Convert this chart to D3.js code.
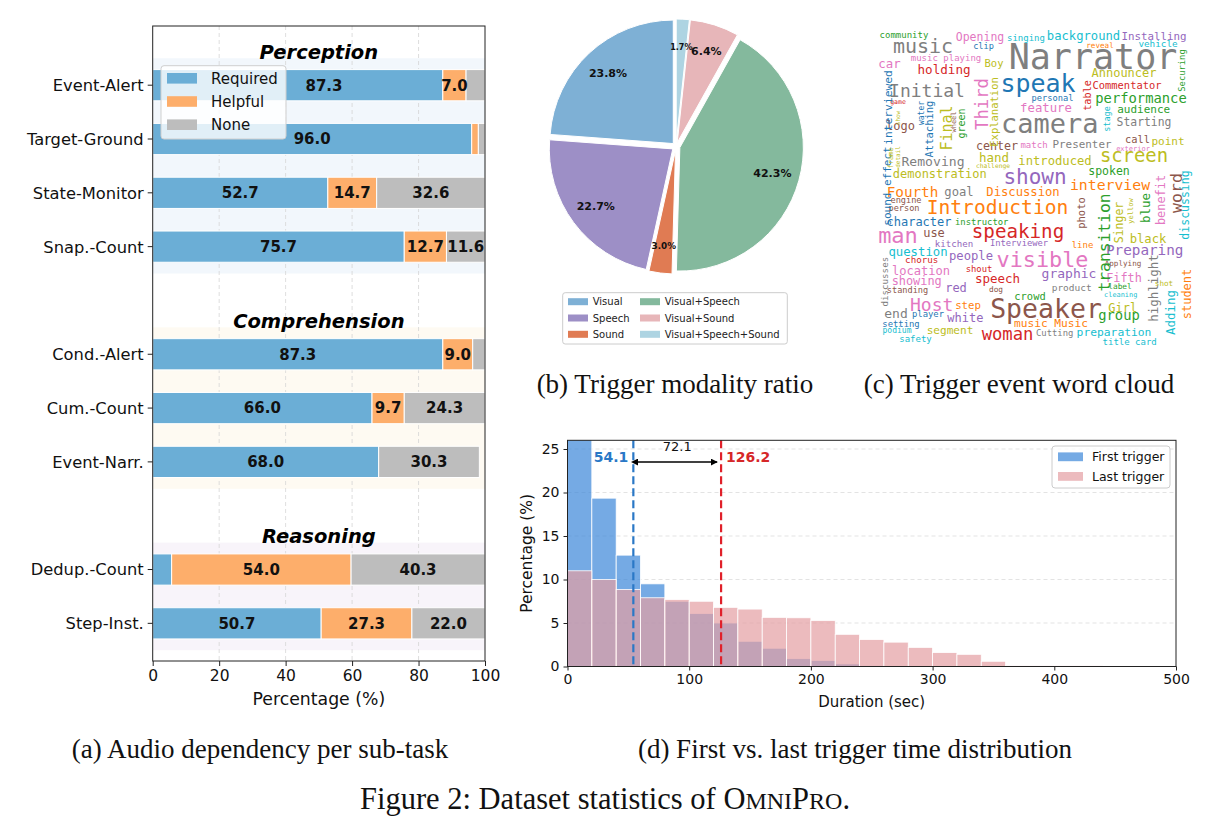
<!DOCTYPE html>
<html><head><meta charset="utf-8">
<script src="https://cdn.jsdelivr.net/npm/d3@7"></script>
<style>
body{margin:0;background:#fff}
svg{display:block}
svg{font-family:"DejaVu Sans",sans-serif}
</style></head>
<body><svg id="fig" width="1209" height="834"></svg>
<script>
// ================= DATA =================
// (a) Audio dependency per sub-task
const subtasks = ["Event-Alert","Target-Ground","State-Monitor","Snap.-Count","Cond.-Alert","Cum.-Count","Event-Narr.","Dedup.-Count","Step-Inst."];
const taskGroups = ["Perception","Comprehension","Reasoning"];
const taskGroupOf = [0,0,0,0,1,1,1,2,2];
const dependencyLevels = ["Required","Helpful","None"];
const requiredPct = [87.3,96.0,52.7,75.7,87.3,66.0,68.0,5.7,50.7];
const helpfulPct  = [7.0,2.0,14.7,12.7,9.0,9.7,0.0,54.0,27.3];
const nonePct     = [5.7,2.0,32.6,11.6,3.7,24.3,30.3,40.3,22.0];
const pctTicks = [0,20,40,60,80,100];

// (b) Trigger modality ratio
const modalities = ["Visual","Speech","Sound","Visual+Speech","Visual+Sound","Visual+Speech+Sound"];
const modalityShare = [23.8,22.7,3.0,42.3,6.4,1.7];

// (c) Trigger event word cloud
const cloudWords = ["community","Opening","singing","background","Installing","music","clip","Narrator","reveal","vehicle","music playing","car","Boy","holding","speak","Announcer","Commentator","Initial","personal","performance","feature","audience","game","logo","camera","Starting","center","match","Presenter","call","point","exterior","Removing","hand","introduced","screen","challenge","demonstration","spoken","shown","interview","Fourth","goal","Discussion","engine","person","Introduction","character","instructor","man","use","speaking","kitchen","Interviewer","line","black","question","chorus","people","visible","Preparing","Applying","location","shout","graphic","Fifth","showing","red","speech","standing","dog","product","label","shot","cleaning","crowd","Speaker","Host","step","Girl","end","player","white","group","setting","segment","music Music","podium","woman","Cutting","preparation","title card","safety",
 "interviewed","sound effect","Securing","table","Third","Explanation","water","show","Attaching","wheel","green","Final","frame","detail","stage","word","discussing","benefit","photo","transition","Singer","yellow","blue","highlight","discusses","student","Adding"];
const cloudWeight = [9,11.5,9,12.2,10.8,20,8.6,35,7.6,9.3,9,12.4,10.5,12.6,25,12,10.4,18,8.7,13.8,12.3,11,6.5,12,27,11.4,11.7,9,10.9,10.4,11,7,13.1,12.5,12.2,18.9,6.3,12,11.5,21,14.8,14.3,12.2,12.2,8.6,8.6,19.6,12,8.9,22,12,19.2,9.1,8.8,9,12.2,12.3,9.2,12.2,21.8,14.3,7.6,12.1,8.9,13,11.8,11.9,12,12.5,8.6,7.8,9.5,7.8,7.6,6.9,10.4,26.5,18,10.7,12,13,8.9,12,13.8,8.9,11.1,11.2,8,17.2,8.9,11.3,9,9,
 11.3,11,8.8,10.2,17.2,10.5,8,6,10.5,7,10,15,7,6,8.5,16.5,11.5,11.9,10.5,16.3,11.5,7,12.5,12.5,9.2,12,12.5];
const cloudHue = ["green","pink","cyan","cyan","purple","gray","blue","gray","orange","cyan","pink","pink","olive","red","blue","olive","red","gray","blue","green","pink","green","red","brown","gray","gray","brown","pink","gray","brown","olive","pink","gray","olive","olive","olive","olive","olive","green","purple","orange","orange","gray","orange","brown","brown","orange","blue","green","pink","brown","red","purple","purple","orange","olive","cyan","red","purple","pink","purple","brown","pink","red","purple","pink","pink","purple","red","brown","brown","gray","green","olive","cyan","green","brown","pink","orange","olive","gray","blue","purple","green","blue","olive","orange","cyan","red","gray","cyan","cyan","cyan",
 "blue","blue","green","red","pink","olive","blue","olive","blue","brown","green","olive","olive","olive","cyan","brown","cyan","pink","brown","green","olive","olive","green","gray","gray","orange","cyan"];
// placement of each word in the cloud image (u, v in cloud pixels; vertical flag)
const cloudPlacement = [[29,13,0],[105,16,0],[151,15.5,0],[208.5,14.5,0],[279,14.5,0],[48,28.3,0],[108.5,23.7,0],[218,44,0],[225,23,0],[283,22.3,0],[71,35.7,0],[14.5,43.3,0],[119,41.7,0],[69,49.3,0],[163,66.5,0],[249,52.3,0],[252,64.3,0],[52,72.3,0],[177.5,76,0],[266,78.3,0],[171,86.7,0],[268.7,87.7,0],[23,79,0],[25.5,105,0],[174.7,107.5,0],[269,101,0],[122,125,0],[159,123.3,0],[207,123.3,0],[262.5,118.3,0],[293,120,0],[258,125.7,0],[58,141,0],[119,136.7,0],[180,139.5,0],[259,136.7,0],[118,143.3,0],[64.7,152.7,0],[234,150,0],[160,159,0],[235,165,0],[37.5,171.7,0],[84,171,0],[148,171,0],[31,177.7,0],[29,185.7,0],[122.5,189,0],[44,201,0],[106.7,200,0],[23,218.3,0],[59,212.3,0],[143,213,0],[79,221.7,0],[144,221,0],[207.5,223.3,0],[273,218.3,0],[43,231,0],[46.7,238.3,0],[96,235,0],[167.5,242,0],[269.7,230,0],[248,241,0],[46,250,0],[104,246.7,0],[194,253,0],[249,256.7,0],[41.7,260,0],[81,266.7,0],[122.5,258.3,0],[32.5,268.3,0],[121,266.7,0],[196.7,265.7,0],[245,264.3,0],[289,261,0],[245.7,271.7,0],[155,275,0],[171,292.5,0],[56.7,285.7,0],[93,284.3,0],[247.7,286.7,0],[21,293.3,0],[53,292.3,0],[90.3,296.7,0],[244,295,0],[26,301.7,0],[75,309,0],[176,302,0],[22,308.3,0],[132.5,315,0],[179.7,311,0],[239,311,0],[254.7,320,0],[40.5,316.7,0],
 [12.7,82.5,1],[12,161,1],[307,45.5,1],[212,70.5,1],[106.7,79,1],[119.5,87,1],[46,88,1],[22.5,93,1],[54.5,104,1],[78,97,1],[86.5,98.5,1],[72,103,1],[15,133,1],[22.5,132,1],[232,94,1],[301.5,168,1],[310,180,1],[285.5,175,1],[206,188,1],[229.5,217.5,1],[243.5,197.5,1],[255.5,186,1],[270,183,1],[278,263,1],[10,256.7,1],[311.5,269,1],[295,287.5,1]];

// (d) First vs. last trigger time distribution (20 s bins starting at 0)
const binWidthSec = 20;
const firstTriggerPct = [32.6,19.35,12.8,9.5,7.5,6.1,5.0,2.9,2.1,0.9,0.7,0.3,0.1,0.05,0.05,0,0,0,0,0,0,0.05];
const lastTriggerPct  = [11.0,10.0,8.85,7.9,7.7,7.5,6.8,6.6,5.65,5.6,5.3,3.7,3.1,2.8,2.2,1.6,1.4,0.6,0.1,0.1,0.1,0.1,0.05];
const meanFirst = 54.1, meanLast = 126.2;
const durationTicks = [0,100,200,300,400,500];
const percentTicks = [0,5,10,15,20,25];

// ================= DRAW =================
const svg = d3.select("#fig");
svg.append("rect").attr("width",1209).attr("height",834).attr("fill","#fff");
const SANS = "'DejaVu Sans', sans-serif";

// ---------- (a) ----------
(function(){
  const L=152.7,R=485,T=26,B=661;
  const x = d3.scaleLinear().domain([0,100]).range([L,R]);
  const slot = subtasks.map((d,i)=>i+taskGroupOf[i]);
  const y = d3.scaleLinear().domain([-1.1,10.7]).range([T,B]);
  const step = y(1)-y(0), bh = 0.58*step;
  const colors = ["#6baed6","#fdae6b","#bdbdbd"];
  const bandFill = ["#f2f7fc","#fefaf2","#f8f4fa"];
  const legBox = {x:161,y:65.7,w:125,h:73.3};
  const g = svg.append("g");
  taskGroups.forEach((name,gi)=>{
    const s = slot.filter((v,i)=>taskGroupOf[i]===gi);
    const s0=d3.min(s), s1=d3.max(s);
    g.append("rect").attr("x",L).attr("width",R-L).attr("y",y(s0-0.5)).attr("height",y(s1+0.5)-y(s0-0.5)).attr("fill",bandFill[gi]);
  });
  pctTicks.slice(1,-1).forEach(t=>g.append("line").attr("x1",x(t)).attr("x2",x(t)).attr("y1",T).attr("y2",B)
     .attr("stroke","#d6d6d6").attr("stroke-width",0.8).attr("stroke-dasharray","4,3"));
  taskGroups.forEach((name,gi)=>{
    const s0 = d3.min(slot.filter((v,i)=>taskGroupOf[i]===gi));
    g.append("text").attr("x",(L+R)/2).attr("y",y(s0-0.62)).attr("dy","0.36em").attr("text-anchor","middle")
     .attr("font-size",19.5).attr("font-weight","bold").attr("font-style","italic").text(name);
  });
  const series = [requiredPct,helpfulPct,nonePct];
  const labels = [];
  subtasks.forEach((t,i)=>{
    let acc=0;
    series.forEach((arr,k)=>{
      const v=arr[i];
      if(v>0){
        g.append("rect").attr("x",x(acc)).attr("width",x(acc+v)-x(acc)).attr("y",y(slot[i])-bh/2).attr("height",bh)
         .attr("fill",colors[k]).attr("stroke","#fff").attr("stroke-width",1);
        if(v>6){
          let lx = x(acc+v/2);
          const ly = y(slot[i]);
          // keep label clear of the legend box
          if(ly>legBox.y && ly<legBox.y+legBox.h && lx-18<legBox.x+legBox.w) lx = legBox.x+legBox.w+38;
          labels.push([lx,ly,v.toFixed(1)]);
        }
      }
      acc+=v;
    });
  });
  // frame
  g.append("rect").attr("x",L).attr("y",T).attr("width",R-L).attr("height",B-T).attr("fill","none").attr("stroke","#222").attr("stroke-width",1);
  // y ticks
  subtasks.forEach((t,i)=>{
    g.append("line").attr("x1",L-5).attr("x2",L).attr("y1",y(slot[i])).attr("y2",y(slot[i])).attr("stroke","#222");
    g.append("text").attr("x",L-9).attr("y",y(slot[i])).attr("dy","0.36em").attr("text-anchor","end").attr("font-size",16.3).attr("fill","#111").text(t);
  });
  // x axis
  const xa = g.append("g").attr("transform",`translate(0,${B})`).call(d3.axisBottom(x).tickValues(pctTicks).tickSize(5).tickPadding(4).tickFormat(d3.format("d")));
  xa.select(".domain").remove();
  xa.selectAll("text").attr("font-size",15.5).style("font-family",SANS).attr("fill","#111");
  xa.selectAll("line").attr("stroke","#222");
  g.append("text").attr("x",(L+R)/2).attr("y",705).attr("text-anchor","middle").attr("font-size",17.3).attr("fill","#111").text("Percentage (%)");
  // legend
  const lg = g.append("g");
  lg.append("rect").attr("x",legBox.x).attr("y",legBox.y).attr("width",legBox.w).attr("height",legBox.h).attr("rx",3)
    .attr("fill","#fff").attr("fill-opacity",0.8).attr("stroke","#cfcfcf");
  dependencyLevels.forEach((lv,k)=>{
    const cy = 78.3 + k*23.2;
    lg.append("rect").attr("x",167).attr("y",cy-5.3).attr("width",30).attr("height",10.6).attr("fill",colors[k]);
    lg.append("text").attr("x",211).attr("y",cy).attr("dy","0.36em").attr("font-size",15).attr("fill","#111").text(lv);
  });
  labels.forEach(l=>g.append("text").attr("x",l[0]).attr("y",l[1]).attr("dy","0.36em").attr("text-anchor","middle")
          .attr("font-size",15).attr("font-weight","bold").attr("fill","#111").text(l[2]));
})();

// ---------- (b) ----------
(function(){
  const cx=676, cy=146.5, R=123.5, e=4;
  const colors = ["#7eb0d5","#9d8fc6","#e07b53","#84b99d","#e7b6b9","#aed4e2"];
  const pie = d3.pie().sort(null).value(d=>d).startAngle(0).endAngle(-2*Math.PI);
  const arcs = pie(modalityShare);
  const arc = d3.arc().innerRadius(0).outerRadius(R);
  const g = svg.append("g").attr("transform",`translate(${cx},${cy})`);
  arcs.forEach((a,i)=>{
    const mid=(a.startAngle+a.endAngle)/2;
    g.append("path").attr("d",arc(a)).attr("fill",colors[i]).attr("stroke","#fff").attr("stroke-width",1)
      .attr("transform",`translate(${e*Math.sin(mid)},${-e*Math.cos(mid)})`);
  });
  arcs.forEach((a,i)=>{
    const mid=(a.startAngle+a.endAngle)/2, r=100;
    const v = modalityShare[i];
    g.append("text").attr("x",r*Math.sin(mid)).attr("y",-r*Math.cos(mid)).attr("dy","0.36em").attr("text-anchor","middle")
      .attr("font-weight","bold").attr("font-size", v<2?8:(v<5?8.8:11)).attr("fill","#111").text(v.toFixed(1)+"%");
  });
  // legend
  const lg = svg.append("g");
  lg.append("rect").attr("x",562.7).attr("y",292.7).attr("width",224.6).attr("height",51.3).attr("rx",2.5)
    .attr("fill","#fff").attr("stroke","#cccccc");
  modalities.forEach((m,i)=>{
    const col=Math.floor(i/3), row=i%3;
    const px = col===0?568:640, ty = 301.7+row*16.3;
    lg.append("rect").attr("x",px).attr("y",ty-3.5).attr("width",20).attr("height",7).attr("fill",colors[i]);
    lg.append("text").attr("x",px+24.7).attr("y",ty).attr("dy","0.36em").attr("font-size",10).attr("fill","#222").text(m);
  });
})();

// ---------- (c) ----------
(function(){
  const hues = {blue:"#1f77b4",orange:"#ff7f0e",green:"#2ca02c",red:"#d62728",purple:"#9467bd",brown:"#8c564b",pink:"#e377c2",gray:"#7f7f7f",olive:"#bcbd22",cyan:"#17becf"};
  const cx = d3.scaleLinear().domain([0,315]).range([875,1190]);
  const cy = d3.scaleLinear().domain([0,322]).range([25,347]);
  const g = svg.append("g");
  cloudWords.forEach((w,i)=>{
    const [u,v,vert]=cloudPlacement[i];
    g.append("text").attr("transform",`translate(${cx(u)},${cy(v)}) rotate(${vert?-90:0})`)
      .attr("text-anchor","middle").style("font-family","'DejaVu Sans Mono', monospace").attr("font-size",cloudWeight[i])
      .attr("fill",hues[cloudHue[i]]).attr("dy", vert? "0.36em":null).text(w);
  });
})();

// ---------- (d) ----------
(function(){
  const L=567.5,R=1176,T=440.3,B=666.5;
  const x = d3.scaleLinear().domain([0,500]).range([L,R]);
  const y = d3.scaleLinear().domain([0,26]).range([B,T]);
  const g = svg.append("g");
  svg.append("clipPath").attr("id","clipd").append("rect").attr("x",L).attr("y",T).attr("width",R-L).attr("height",B-T);
  percentTicks.slice(1).forEach(t=>g.append("line").attr("x1",L).attr("x2",R).attr("y1",y(t)).attr("y2",y(t))
     .attr("stroke","#dcdcdc").attr("stroke-width",0.8).attr("stroke-dasharray","4,3"));
  const bars = g.append("g").attr("clip-path","url(#clipd)");
  firstTriggerPct.forEach((v,i)=>{ if(v<=0) return;
    bars.append("rect").attr("x",x(i*binWidthSec)).attr("width",x((i+1)*binWidthSec)-x(i*binWidthSec)).attr("y",y(v)).attr("height",B-y(v))
      .attr("fill","#3a86d8").attr("fill-opacity",0.7).attr("stroke","#fff").attr("stroke-width",0.8);
  });
  lastTriggerPct.forEach((v,i)=>{ if(v<=0) return;
    bars.append("rect").attr("x",x(i*binWidthSec)).attr("width",x((i+1)*binWidthSec)-x(i*binWidthSec)).attr("y",y(v)).attr("height",B-y(v))
      .attr("fill","#e49ea2").attr("fill-opacity",0.7).attr("stroke","#fff").attr("stroke-width",0.8);
  });
  // mean lines
  g.append("line").attr("x1",x(meanFirst)).attr("x2",x(meanFirst)).attr("y1",T).attr("y2",B).attr("stroke","#2a78c6").attr("stroke-width",2.2).attr("stroke-dasharray","8,4");
  g.append("line").attr("x1",x(meanLast)).attr("x2",x(meanLast)).attr("y1",T).attr("y2",B).attr("stroke","#e0202a").attr("stroke-width",2.2).attr("stroke-dasharray","8,4");
  g.append("text").attr("x",x(meanFirst)-5).attr("y",y(24.1)).attr("dy","0.36em").attr("text-anchor","end").attr("font-weight","bold").attr("font-size",14).attr("fill","#2a78c6").text(meanFirst.toFixed(1));
  g.append("text").attr("x",x(meanLast)+5).attr("y",y(24.1)).attr("dy","0.36em").attr("text-anchor","start").attr("font-weight","bold").attr("font-size",14).attr("fill","#d62728").text(meanLast.toFixed(1));
  // arrow
  const defs = svg.append("defs");
  ["s","e"].forEach(k=>{
    defs.append("marker").attr("id","ar"+k).attr("viewBox","0 0 10 10").attr("refX",k==="e"?9:1).attr("refY",5)
      .attr("markerWidth",7).attr("markerHeight",7).attr("markerUnits","userSpaceOnUse").attr("orient","auto-start-reverse")
      .append("path").attr("d","M0,0 L10,5 L0,10 z").attr("fill","#000");
  });
  const ay = y(23.5);
  g.append("line").attr("x1",x(meanFirst)+4).attr("x2",x(meanLast)-4).attr("y1",ay).attr("y2",ay).attr("stroke","#000").attr("stroke-width",1.5)
    .attr("marker-start","url(#ars)").attr("marker-end","url(#are)");
  g.append("text").attr("x",(x(meanFirst)+x(meanLast))/2).attr("y",y(25.3)).attr("dy","0.36em").attr("text-anchor","middle").attr("font-size",13).attr("fill","#111").text((meanLast-meanFirst).toFixed(1));
  // frame + axes
  g.append("rect").attr("x",L).attr("y",T).attr("width",R-L).attr("height",B-T).attr("fill","none").attr("stroke","#222").attr("stroke-width",1);
  const xa = g.append("g").attr("transform",`translate(0,${B})`).call(d3.axisBottom(x).tickValues(durationTicks).tickSize(4).tickPadding(4));
  const ya = g.append("g").attr("transform",`translate(${L},0)`).call(d3.axisLeft(y).tickValues(percentTicks).tickSize(4).tickPadding(4));
  [xa,ya].forEach(a=>{a.select(".domain").remove(); a.selectAll("text").attr("font-size",14).style("font-family",SANS).attr("fill","#111"); a.selectAll("line").attr("stroke","#222");});
  g.append("text").attr("x",(L+R)/2).attr("y",707).attr("text-anchor","middle").attr("font-size",15).attr("fill","#111").text("Duration (sec)");
  g.append("text").attr("transform",`translate(532,${(T+B)/2}) rotate(-90)`).attr("text-anchor","middle").attr("font-size",15.5).attr("fill","#111").text("Percentage (%)");
  // legend
  const lg = g.append("g");
  lg.append("rect").attr("x",1052).attr("y",446).attr("width",118).attr("height",42).attr("rx",3).attr("fill","#fff").attr("fill-opacity",0.8).attr("stroke","#cccccc");
  [["First trigger","#3a86d8"],["Last trigger","#e49ea2"]].forEach((d,k)=>{
    const cyl = 456.8 + k*19.6;
    lg.append("rect").attr("x",1058).attr("y",cyl-4.4).attr("width",25).attr("height",8.8).attr("fill",d[1]).attr("fill-opacity",0.7);
    lg.append("text").attr("x",1092).attr("y",cyl).attr("dy","0.36em").attr("font-size",12.5).attr("fill","#111").text(d[0]);
  });
})();

// ---------- captions ----------
const SERIF = "'Liberation Serif', 'Times New Roman', serif";
[["(a) Audio dependency per sub-task",260,757.5],["(b) Trigger modality ratio",675,392.5],["(c) Trigger event word cloud",1019,392.5],["(d) First vs. last trigger time distribution",855,757.5]]
 .forEach(c=>svg.append("text").attr("x",c[1]).attr("y",c[2]).attr("text-anchor","middle").style("font-family",SERIF).attr("font-size",27).attr("fill","#111").text(c[0]));
const fc = svg.append("text").attr("x",605).attr("y",809).attr("text-anchor","middle").style("font-family",SERIF).attr("font-size",30.5).attr("fill","#111");
fc.append("tspan").text("Figure 2: Dataset statistics of O");
fc.append("tspan").attr("font-size",24).text("MNI");
fc.append("tspan").text("P");
fc.append("tspan").attr("font-size",24).text("RO");
fc.append("tspan").text(".");
</script>
</body></html>
